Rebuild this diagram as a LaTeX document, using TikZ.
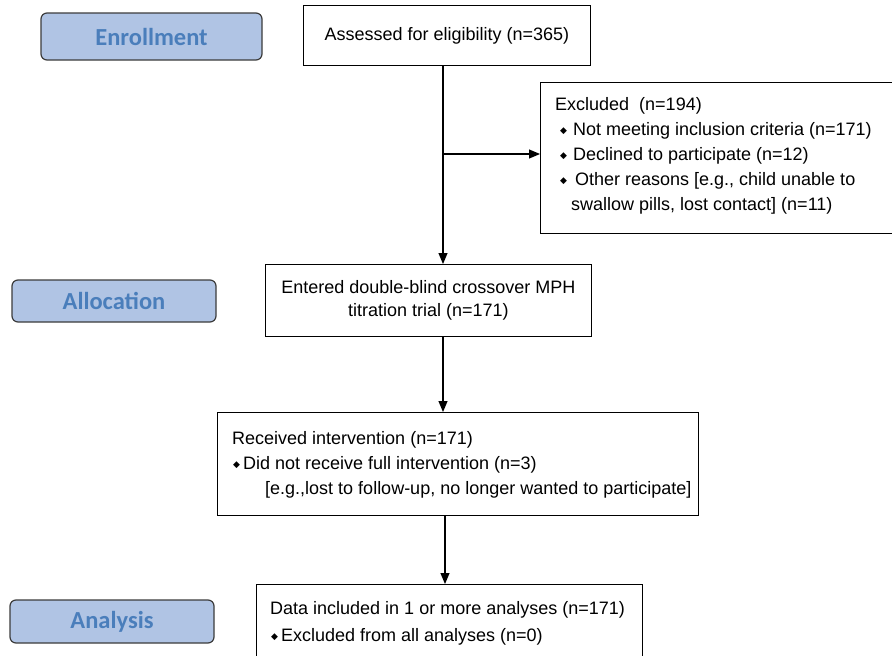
\documentclass[tikz,border=0pt]{standalone}
\usepackage{fontspec}
\setmainfont{Liberation Sans}
\newfontfamily\labfont{Carlito}
\newfontfamily\symfont{DejaVu Sans}
\usetikzlibrary{arrows.meta}
\definecolor{labfill}{RGB}{176,196,228}
\definecolor{labtext}{RGB}{74,126,187}
\definecolor{labedge}{RGB}{60,60,60}
\newcommand{\bul}{\raisebox{2pt}{\symfont\fontsize{9}{9}\selectfont ◆}}
\begin{document}
\begin{tikzpicture}[x=1pt,y=-1pt,
  stage/.style={draw=labedge, fill=labfill, rounded corners=6pt, line width=1.2pt,
    text=labtext, font=\labfont\bfseries\fontsize{24.5}{27}\selectfont, inner sep=0pt},
  box/.style={draw, line width=0.9pt, fill=white, inner sep=0pt, anchor=north west},
  txt/.style={font=\fontsize{18}{25}\selectfont, inner sep=0pt, anchor=north west, align=left},
  ctxt/.style={font=\fontsize{18}{23}\selectfont, align=center, inner sep=0pt},
  arr/.style={-{Triangle[length=11pt,width=9pt]}, line width=1.1pt}]
\useasboundingbox (0,0) rectangle (892,656);
\fill[white] (0,0) rectangle (892,656);

% stage labels
\node[stage, minimum width=221pt, minimum height=47pt] (enr) at (151.5,36.5) {Enrollment};
\node[stage, minimum width=204pt, minimum height=42pt] (alloc) at (114,301) {Allocation};
\node[stage, minimum width=204pt, minimum height=43pt] (anal) at (112,621.5) {Analysis};

% boxes
\node[box, minimum width=287pt, minimum height=60pt] (assess) at (303,5) {};
\node[ctxt] (assesst) at (assess.center) {Assessed for eligibility (n=365)};

\node[box, minimum width=356pt, minimum height=151pt] (excl) at (540,82) {};
\node[txt] (exclt) at (555,97.5) {Excluded\ \ (n=194)\\
\hspace*{5pt}\bul\hspace{6pt}Not meeting inclusion criteria (n=171)\\
\hspace*{5pt}\bul\hspace{6pt}Declined to participate (n=12)\\
\hspace*{5pt}\bul\hspace{8pt}Other reasons [e.g., child unable to\\
\hspace*{16pt}swallow pills, lost contact] (n=11)};

\node[box, minimum width=326pt, minimum height=72pt] (entered) at (265,264) {};
\node[ctxt] (enteredt) at (entered.center) {Entered double-blind crossover MPH\\ titration trial (n=171)};

\node[box, minimum width=481pt, minimum height=103pt] (recv) at (217,412) {};
\node[txt] (recvt) at (232,431.5) {Received intervention (n=171)\\
\hspace*{1pt}\bul\hspace{3pt}Did not receive full intervention (n=3)\\
\hspace*{33pt}[e.g.,lost to follow-up, no longer wanted to participate]};

\node[box, minimum width=386pt, minimum height=120pt] (data) at (256,584) {};
\node[txt, font=\fontsize{18}{27}\selectfont] (datat) at (270,601.5) {Data included in 1 or more analyses (n=171)\\
\hspace*{1pt}\bul\hspace{3pt}Excluded from all analyses (n=0)};

% connectors
\coordinate (c1) at (443,0);
\coordinate (c2) at (445,0);
\coordinate (br) at (443,154);
\draw[arr] (assess.south -| c1) -- (entered.north -| c1);
\draw[arr] (br) -- (br -| excl.west);
\draw[arr] (entered.south -| c1) -- (recv.north -| c1);
\draw[arr] (recv.south -| c2) -- (data.north -| c2);
\end{tikzpicture}
\end{document}
